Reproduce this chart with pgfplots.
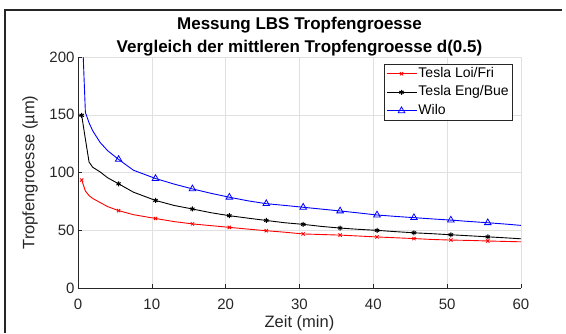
\documentclass[border=0pt]{standalone}
\usepackage{pgfplots}
\usepackage{pgfplotstable}
\pgfplotsset{compat=1.18}
\usepackage{fontspec}
\setmainfont{Liberation Sans}
\definecolor{axgray}{gray}{0.15}
\definecolor{gridgray}{gray}{0.88}
\pgfplotstableread{
x     red    black  blue
0.5   93.5   149.5  235
1     84     129    152
1.5   80     109    143
2     77.5   104.5  136
3     74     100.5  126
4     70.5   95.5   119
5.5   67     90.2   111.3
7.5   63.5   83     102
10.5  60.2   75.8   94.8
13    57.5   71.5   90
15.5  55.5   68.4   85.8
18    54     65.2   82
20.5  52.5   62.6   78.6
23    51     60.5   75.5
25.5  49.6   58.5   73
28    48.3   56.5   71.5
30.5  46.8   55.1   69.9
33    46.3   53.3   68.3
35.5  45.8   51.9   66.7
38    45     50.8   65
40.5  44.2   49.9   63.2
43    43.5   48.8   62
45.5  42.8   47.8   60.9
48    42     47     59.8
50.5  41.5   46.1   58.8
53    41.2   45.2   57.6
55.5  40.7   44.3   56.5
58    40.3   43.4   55.3
60    40     42.6   54.2
}\datatable
\begin{document}
\begin{tikzpicture}
\useasboundingbox (-78pt,-45pt) rectangle (488pt,288pt);
\draw[line width=1.2pt, black!85] (-73pt,-45pt) -- (-73pt,278pt) -- (484pt,278pt);
\begin{axis}[
  at={(0pt,0pt)}, anchor=origin,
  scale only axis, width=443pt, height=231pt,
  xmin=0, xmax=60, ymin=0, ymax=200,
  xtick={0,10,...,60}, ytick={0,50,...,200},
  axis x line*=bottom, axis y line*=left,
  axis line style={axgray, line width=0.6pt},
  tick align=inside, major tick length=4pt,
  tick style={axgray, line width=0.5pt},
  grid=major, major grid style={gridgray, line width=0.5pt},
  /pgf/number format/assume math mode=true,
  tick label style={font=\fontsize{15}{15}\selectfont, text=axgray},
  xticklabel style={yshift=-7.5pt},
  xlabel={Zeit (min)}, ylabel={Tropfengroesse (µm)},
  label style={font=\fontsize{16.5}{16.5}\selectfont, text=axgray},
  xlabel style={at={(axis description cs:0.5,-0.1515)}, anchor=center},
  ylabel style={at={(axis description cs:-0.108,0.5)}, anchor=center},
  title={Messung LBS Tropfengroesse\\Vergleich der mittleren Tropfengroesse d(0.5)},
  title style={font=\fontsize{17}{23}\selectfont\bfseries, align=center,
    at={(axis description cs:0.5,1.063)}, anchor=center},
  legend style={at={(rel axis cs:0.9797,0.9697)}, anchor=north east,
    draw=axgray, line width=0.5pt, fill=white, inner sep=1.5pt,
    font=\fontsize{14}{14}\selectfont, row sep=2.5pt,
    nodes={inner sep=1.5pt, text height=10pt, text depth=3pt}},
  legend cell align=left,
  legend image code/.code={\draw[#1, mark indices={2}] plot coordinates {(0pt,0pt) (15pt,0pt) (30pt,0pt)};},
]
\addplot[red, line width=0.9pt, mark=x, mark size=2.3pt, mark options={line width=0.8pt},
  mark indices={1,7,9,11,13,15,17,19,21,23,25,27}] table[x=x, y=red] {\datatable};
\addlegendentry{Tesla Loi/Fri}
\addplot[black, line width=0.9pt, mark=asterisk, mark size=2.5pt, mark options={line width=1pt},
  mark indices={1,7,9,11,13,15,17,19,21,23,25,27}] table[x=x, y=black] {\datatable};
\addlegendentry{Tesla Eng/Bue}
\addplot[blue, line width=0.9pt, mark=triangle, mark size=3.8pt, mark options={line width=0.8pt},
  mark indices={6,8,10,12,14,16,18,20,22,24,26}] table[x=x, y=blue] {\datatable};
\addlegendentry{Wilo}
\end{axis}
\end{tikzpicture}
\end{document}
